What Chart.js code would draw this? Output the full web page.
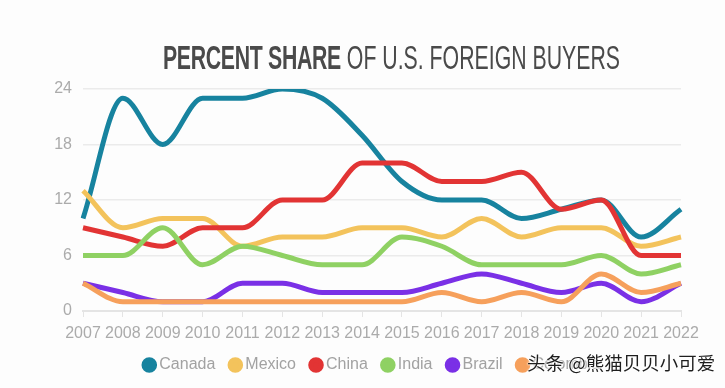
<!DOCTYPE html>
<html><head><meta charset="utf-8">
<script src="https://cdn.jsdelivr.net/npm/chart.js@4"></script>
<style>
html,body{margin:0;padding:0;background:#fdfdfd;}
#wrap{position:relative;width:725px;height:388px;overflow:hidden;}
#title{position:absolute;left:163px;top:41px;font-family:"Liberation Sans",Arial;font-size:33px;line-height:33px;color:#4a4a4a;white-space:nowrap;transform-origin:0 0;display:inline-block;}
#title b{font-weight:bold;letter-spacing:-0.5px;}
#wm{position:absolute;left:527px;top:352px;font-family:"Noto Sans CJK SC";font-size:18.5px;line-height:20px;color:#1e1e1e;text-shadow:0 0 2px #fff,0 0 2px #fff,0 0 3px #fff;white-space:nowrap;}
canvas{position:absolute;left:0;top:0;}
</style></head>
<body><div id="wrap"><canvas id="c" width="725" height="388"></canvas>
<div id="title"><b>PERCENT SHARE</b> OF U.S. FOREIGN BUYERS</div>
<div id="wm">头条 @熊猫贝贝小可爱</div></div>
<script>
const years = ['2007','2008','2009','2010','2011','2012','2013','2014','2015','2016','2017','2018','2019','2020','2021','2022'];
const canada   = [10,23,18,23,23,24,23,19,14,12,12,10,11,12,8,11];
const mexico   = [13,9,10,10,7,8,8,9,9,8,10,8,9,9,7,8];
const china    = [9,8,7,9,9,12,12,16,16,14,14,15,11,12,6,6];
const india    = [6,6,9,5,7,6,5,5,8,7,5,5,5,6,4,5];
const brazil   = [3,2,1,1,3,3,2,2,2,3,4,3,2,3,1,3];
const colombia = [3,1,1,1,1,1,1,1,1,2,1,2,1,4,2,3];
const yTicks = [0,6,12,18,24];

// fit title to reference width
(function(){
  const t=document.getElementById('title');
  const w=t.getBoundingClientRect().width;
  t.style.transform='scaleX('+(457/w)+')';
})();

function ds(label, data, color){
  return {label, data, borderColor:color, backgroundColor:color, borderWidth:5,
    pointRadius:0, pointHoverRadius:0, cubicInterpolationMode:'monotone', fill:false};
}
const FONT='"Liberation Sans", Arial';
new Chart(document.getElementById('c'), {
  type:'line',
  data:{labels:years, datasets:[
    ds('Canada', canada, '#17839f'),
    ds('Mexico', mexico, '#f3c35c'),
    ds('China', china, '#e23434'),
    ds('India', india, '#8fd163'),
    ds('Brazil', brazil, '#7a30e6'),
    ds('Colombia', colombia, '#f6a05c'),
  ].reverse()},
  options:{
    responsive:false, animation:false, devicePixelRatio:1,
    layout:{padding:{left:50,right:27.6,top:89,bottom:5}},
    plugins:{
      legend:{position:'bottom', reverse:true, labels:{usePointStyle:true, pointStyle:'circle', boxWidth:4, boxHeight:7.5, padding:18, color:'#a2a2a2', font:{family:FONT, size:16}}},
      tooltip:{enabled:false}
    },
    scales:{
      x:{grid:{drawOnChartArea:false, drawTicks:true, tickLength:6, color:'#e4e4e4'}, border:{color:'#e4e4e4', width:2},
         ticks:{color:'#ababab', padding:7, maxRotation:0, autoSkip:false, font:{family:FONT, size:16}},
         afterFit(s){s.height=28;}},
      y:{min:0,max:24, afterBuildTicks(s){s.ticks=yTicks.map(v=>({value:v}));},
         grid:{color:'#ebebeb', drawTicks:false, lineWidth:1.5}, border:{display:false},
         ticks:{color:'#ababab', padding:11, font:{family:FONT, size:16}},
         afterFit(s){s.width=33;}},
      y2:{position:'right', min:0, max:24, grid:{display:false}, border:{display:false},
         ticks:{display:false}, afterFit(s){s.width=16.4;}}
    }
  }
});
</script></body></html>
